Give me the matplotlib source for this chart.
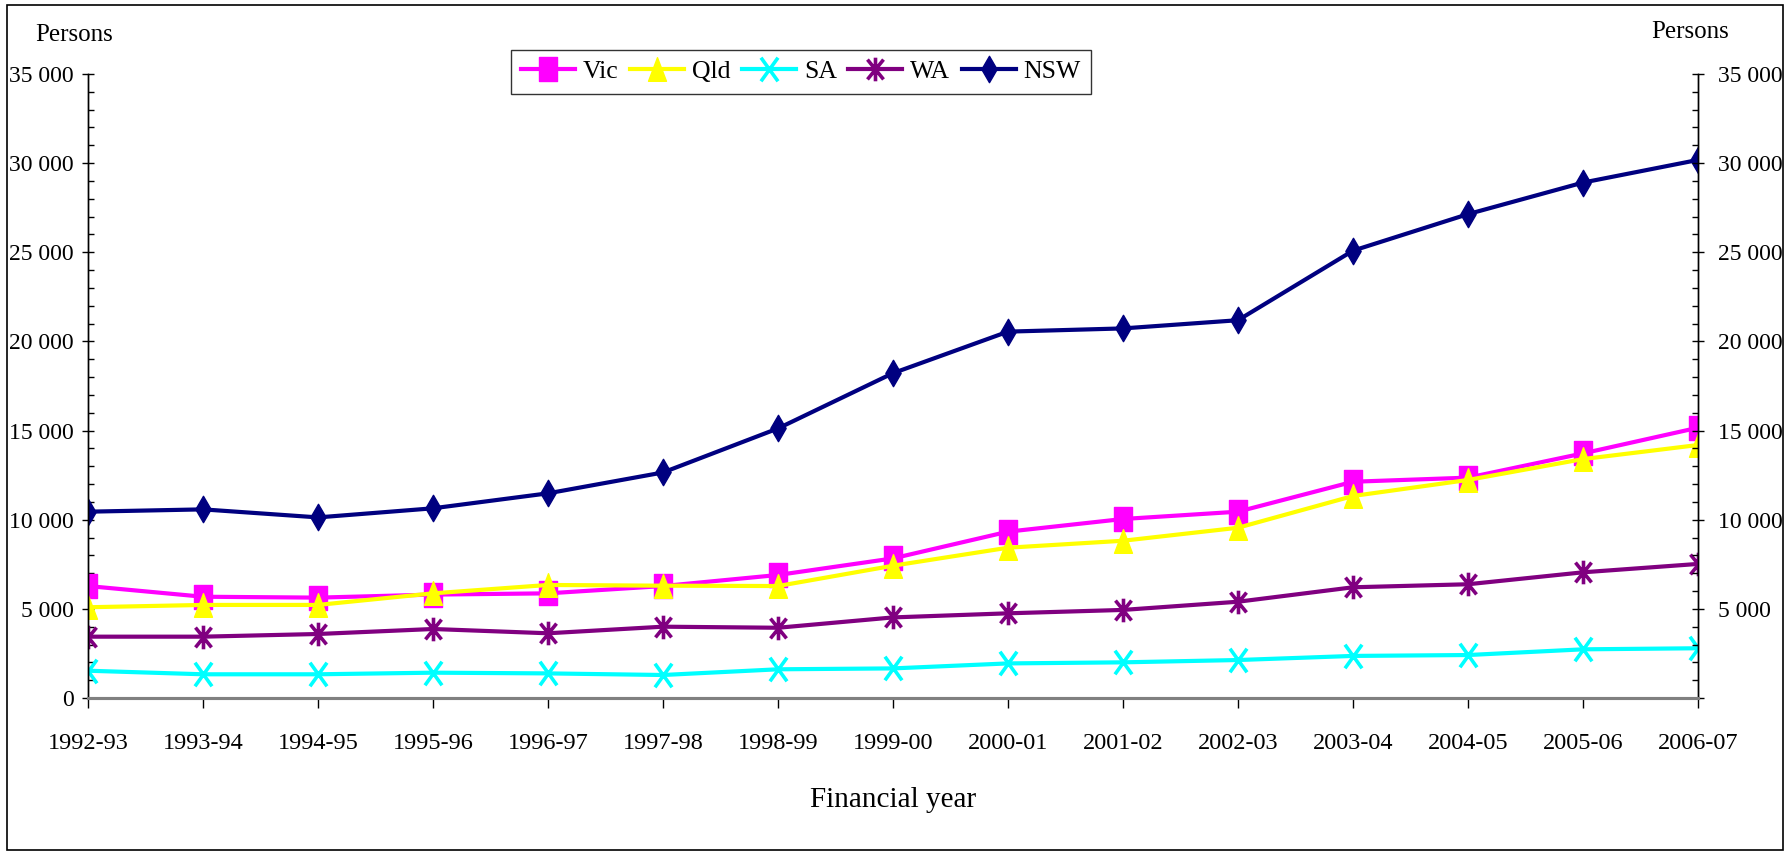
import matplotlib
matplotlib.use('Agg')
import matplotlib.pyplot as plt
from matplotlib.path import Path
from matplotlib.ticker import MultipleLocator, FuncFormatter
from matplotlib.patches import Rectangle

years = ['1992-93', '1993-94', '1994-95', '1995-96', '1996-97', '1997-98', '1998-99', '1999-00',
         '2000-01', '2001-02', '2002-03', '2003-04', '2004-05', '2005-06', '2006-07']
vic = [6280, 5680, 5630, 5800, 5870, 6280, 6900, 7830, 9330, 10040, 10450, 12130, 12360, 13720, 15160]
qld = [5090, 5220, 5220, 5870, 6340, 6300, 6280, 7420, 8430, 8820, 9550, 11330, 12230, 13400, 14190]
sa = [1530, 1330, 1330, 1420, 1380, 1290, 1610, 1660, 1940, 2000, 2130, 2360, 2410, 2730, 2790]
wa = [3440, 3440, 3590, 3870, 3630, 4000, 3940, 4520, 4750, 4940, 5400, 6210, 6380, 7050, 7520]
nsw = [10450, 10580, 10130, 10640, 11480, 12650, 15120, 18220, 20550, 20730, 21190, 25090, 27140, 28910, 30180]

plt.rcParams['font.family'] = ['Liberation Serif', 'DejaVu Serif']

# the original picture is stretched vertically, so markers are taller than wide
w = 0.37
sq = Path([(-w, -0.5), (w, -0.5), (w, 0.5), (-w, 0.5), (-w, -0.5)],
          [Path.MOVETO, Path.LINETO, Path.LINETO, Path.LINETO, Path.CLOSEPOLY])
tri = Path([(-0.38, -0.5), (0.38, -0.5), (0, 0.5), (-0.38, -0.5)],
           [Path.MOVETO, Path.LINETO, Path.LINETO, Path.CLOSEPOLY])
cross = Path([(-0.36, -0.5), (0.36, 0.5), (-0.36, 0.5), (0.36, -0.5)],
             [Path.MOVETO, Path.LINETO, Path.MOVETO, Path.LINETO])
star = Path([(-0.34, -0.42), (0.34, 0.42), (-0.34, 0.42), (0.34, -0.42), (0, -0.5), (0, 0.5)],
            [Path.MOVETO, Path.LINETO, Path.MOVETO, Path.LINETO, Path.MOVETO, Path.LINETO])
dia = Path([(0, -0.5), (0.29, 0), (0, 0.5), (-0.29, 0), (0, -0.5)],
           [Path.MOVETO, Path.LINETO, Path.LINETO, Path.LINETO, Path.CLOSEPOLY])

fig = plt.figure(figsize=(17.89, 8.51), dpi=100)
ax = fig.add_axes([88 / 1789, 1 - 698 / 851, 1610 / 1789, 624 / 851])

x = list(range(len(years)))
lw = 3
ms = 17
ax.plot(x, vic, color='#FF00FF', lw=lw, marker=sq, ms=ms, mec='#FF00FF', mfc='#FF00FF', label='Vic')
ax.plot(x, qld, color='#FFFF00', lw=lw, marker=tri, ms=ms, mec='#FFFF00', mfc='#FFFF00', label='Qld')
ax.plot(x, sa, color='#00FFFF', lw=lw, marker=cross, ms=ms, mec='#00FFFF', mew=2.6, label='SA')
ax.plot(x, wa, color='#800080', lw=lw, marker=star, ms=ms, mec='#800080', mew=2.6, label='WA')
ax.plot(x, nsw, color='#000080', lw=lw, marker=dia, ms=ms + 2, mec='#000080', mfc='#000080', label='NSW')

ax.set_xlim(0, 14)
ax.set_ylim(0, 35000)
ax.set_xticks(x)
ax.set_xticklabels(years)
ax.yaxis.set_major_locator(MultipleLocator(5000))
ax.yaxis.set_minor_locator(MultipleLocator(1000))

def fmt_left(v, pos):
    return f'{v:,.0f}'.replace(',', ' ')

def fmt_right(v, pos):
    if v == 0:
        return ''
    return f'{v:,.0f}'.replace(',', ' ')

ax.yaxis.set_major_formatter(FuncFormatter(fmt_left))

ax2 = ax.twinx()
ax2.set_ylim(0, 35000)
ax2.yaxis.set_major_locator(MultipleLocator(5000))
ax2.yaxis.set_minor_locator(MultipleLocator(1000))
ax2.yaxis.set_major_formatter(FuncFormatter(fmt_right))

for a in (ax, ax2):
    a.spines['top'].set_visible(False)
    a.spines['left'].set_linewidth(1)
    a.spines['right'].set_linewidth(1)
    a.spines['bottom'].set_color('#808080')
    a.spines['bottom'].set_linewidth(2.2)
    a.tick_params(axis='y', which='major', direction='inout', length=9, width=1, labelsize=17, pad=6)
    a.tick_params(axis='y', which='minor', direction='in', length=4.5, width=1)
ax2.tick_params(axis='y', which='major', pad=10)
ax.tick_params(axis='x', direction='out', length=7, width=1, labelsize=17.5, pad=18)

ax.set_xlabel('Financial year', fontsize=21, labelpad=24)

fig.text(74 / 1789, 1 - 35 / 851, 'Persons', fontsize=18, ha='center', va='center')
fig.text(1690 / 1789, 1 - 32 / 851, 'Persons', fontsize=18, ha='center', va='center')

leg = fig.legend(loc='upper center', bbox_to_anchor=(801 / 1789, 1 - 50 / 851), ncol=5,
                 fontsize=18.5, frameon=True, fancybox=False, edgecolor='black',
                 handlelength=2.1, columnspacing=0.45, handletextpad=0.3,
                 borderpad=0.4, borderaxespad=0)
leg.get_frame().set_linewidth(1)

fig.patches.append(Rectangle((7 / 1789, 1 / 851), 1776 / 1789, 845 / 851, transform=fig.transFigure,
                             fill=False, edgecolor='black', linewidth=1.2))

fig.savefig('out.png', dpi=100)
